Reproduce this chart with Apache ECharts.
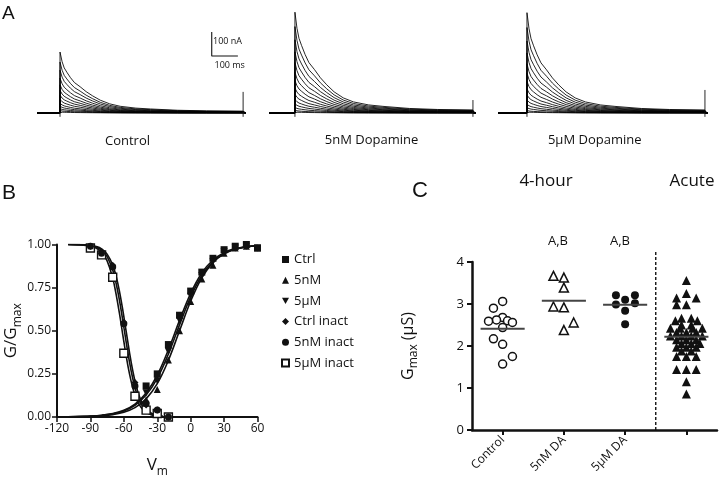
<!DOCTYPE html>
<html><head><meta charset="utf-8">
<script src="https://cdn.jsdelivr.net/npm/echarts@6.0.0/dist/echarts.min.js"></script>
<style>html,body{margin:0;padding:0;background:#fff}#c{width:720px;height:485px}</style>
</head><body><div id="c"></div><script>
// ---------- Panel A : current traces ----------
const traceDecayMs    = [0, 8, 16, 26, 40, 55, 77, 100, 125, 154, 190, 230, 290, 346, 450, 560, 700];
const traceDecayShape = [1.00, 0.84, 0.74, 0.67, 0.58, 0.50, 0.43, 0.35, 0.28, 0.21, 0.15, 0.11, 0.08, 0.066, 0.045, 0.035, 0.03];
const controlPeaksNA  = [254, 212, 178, 145, 117, 94, 74, 56, 40, 28, 18, 10, 4];
const nM5PeaksNA      = [420, 360, 305, 255, 210, 170, 135, 104, 78, 56, 38, 23, 11, 4];
const uM5PeaksNA      = [418, 356, 300, 250, 205, 166, 131, 100, 75, 54, 36, 22, 10, 4];
const endTickTopNA    = [88, 54, 96];
const stepTickNA      = -16;
const traceLabels     = ['Control', '5nM Dopamine', '5μM Dopamine'];
const scaleBarNA = 100, scaleBarMs = 100;

// ---------- Panel B : activation / inactivation ----------
const actV      = [-40, -30, -20, -10, 0, 10, 20, 30, 40, 50, 60];
const ctrlAct   = [0.18, 0.25, 0.42, 0.59, 0.73, 0.84, 0.92, 0.97, 0.99, 1.00, 0.98];
const nM5Act    = [0.10, 0.16, 0.33, 0.50, 0.67, 0.80, 0.88, 0.95, 0.98, 0.99, 0.98];
const uM5Act    = [0.14, 0.21, 0.38, 0.56, 0.70, 0.82, 0.90, 0.96, 0.98, 0.99, 0.98];
const inactV    = [-90, -80, -70, -60, -50, -40, -30, -20];
const ctrlInact = [0.99, 0.96, 0.88, 0.55, 0.20, 0.07, 0.04, 0.00];
const nM5Inact  = [0.99, 0.95, 0.87, 0.54, 0.18, 0.08, 0.04, 0.00];
const uM5Inact  = [0.98, 0.94, 0.81, 0.37, 0.12, 0.04, 0.02, 0.00];
const fitActV      = [-110, -100, -90, -80, -70, -60, -50, -40, -30, -20, -10, 0, 10, 20, 30, 40, 50, 60];
const fitCtrlAct   = [0.001, 0.003, 0.005, 0.010, 0.020, 0.039, 0.075, 0.139, 0.243, 0.390, 0.560, 0.717, 0.835, 0.910, 0.953, 0.976, 0.988, 0.994];
const fitNM5Act    = [0.001, 0.002, 0.003, 0.007, 0.014, 0.027, 0.054, 0.105, 0.193, 0.329, 0.500, 0.671, 0.807, 0.895, 0.946, 0.973, 0.986, 0.993];
const fitUM5Act    = [0.001, 0.002, 0.005, 0.009, 0.018, 0.035, 0.068, 0.127, 0.224, 0.365, 0.534, 0.696, 0.820, 0.901, 0.948, 0.973, 0.986, 0.993];
const fitInactV    = [-110, -100, -90, -85, -80, -75, -70, -67, -64, -61, -58, -55, -52, -49, -46, -43, -40, -35, -30, -25];
const fitCtrlInact = [1.000, 0.999, 0.995, 0.989, 0.975, 0.944, 0.881, 0.818, 0.731, 0.622, 0.500, 0.378, 0.269, 0.182, 0.119, 0.076, 0.047, 0.021, 0.009, 0.004];
const fitNM5Inact  = [1.000, 0.999, 0.994, 0.986, 0.968, 0.930, 0.852, 0.777, 0.679, 0.562, 0.438, 0.321, 0.223, 0.148, 0.095, 0.060, 0.037, 0.017, 0.007, 0.003];
const fitUM5Inact  = [1.000, 0.998, 0.991, 0.980, 0.956, 0.905, 0.805, 0.714, 0.603, 0.479, 0.358, 0.253, 0.170, 0.111, 0.070, 0.044, 0.027, 0.012, 0.005, 0.002];
const bXTicks = [-120, -90, -60, -30, 0, 30, 60];
const bYTicks = [0, 0.25, 0.5, 0.75, 1.0];

// ---------- Panel C : Gmax ----------
const cCategories   = ['Control', '5nM DA', '5μM DA', ''];
const controlG      = [3.06, 2.90, 2.68, 2.62, 2.60, 2.56, 2.59, 2.44, 2.17, 2.04, 1.75, 1.57];
const controlJitter = [0, -0.15, 0, -0.10, 0.08, 0.16, -0.23, 0, -0.15, 0, 0.16, 0];
const nM5G          = [3.67, 3.63, 3.39, 2.94, 2.92, 2.38, 2.56];
const nM5Jitter     = [-0.17, 0, 0, -0.17, 0, 0, 0.16];
const uM5G          = [3.21, 3.21, 2.99, 3.10, 3.02, 2.84, 2.52];
const uM5Jitter     = [-0.15, 0.16, -0.15, 0, 0.16, 0, 0];
const acuteG        = [3.56, 3.25, 3.14, 3.14, 2.98, 2.98, 2.66, 2.66, 2.60, 2.60, 2.50, 2.50,
                       2.42, 2.42, 2.42, 2.42, 2.32, 2.32, 2.32, 2.24, 2.24, 2.24, 2.24,
                       2.15, 2.15, 2.15, 2.06, 2.06, 2.06, 1.97, 1.97, 1.97, 1.88, 1.88,
                       1.75, 1.75, 1.75, 1.44, 1.44, 1.44, 1.15, 0.86];
const acuteJitter   = [0, 0, -0.16, 0.16, -0.16, 0, -0.08, 0.08, -0.18, 0.18, -0.08, 0.08,
                       -0.26, -0.1, 0.1, 0.26, -0.16, 0, 0.16, -0.26, -0.08, 0.08, 0.26,
                       -0.16, 0, 0.16, -0.08, 0.08, 0.22, -0.16, 0, 0.16, -0.08, 0.08,
                       -0.16, 0, 0.16, -0.16, 0, 0.16, 0, 0];
const groupMeans    = [2.41, 3.08, 2.98, 2.22];
const cYTicks       = [0, 1, 2, 3, 4];
const sigLabels     = ['A,B', 'A,B'];

// ---------- build ----------
const FONT = 'Open Sans';
const INK = '#111';
const chart = echarts.init(document.getElementById('c'), null, {renderer: 'canvas'});

const aPanels = [
  {peaks: controlPeaksNA, left: 37, width: 209, min: -88, max: 711},
  {peaks: nM5PeaksNA, left: 269, width: 207, min: -102, max: 712},
  {peaks: uM5PeaksNA, left: 498, width: 210, min: -114, max: 712}
];
const grids = [], xAxes = [], yAxes = [], series = [];
aPanels.forEach((p, i) => {
  grids.push({left: p.left, top: 7.4, width: p.width, height: 110.4});
  xAxes.push({type: 'value', gridIndex: i, min: p.min, max: p.max, show: false});
  yAxes.push({type: 'value', gridIndex: i, min: -20, max: 440, show: false});
  const endMs = traceDecayMs[traceDecayMs.length - 1];
  p.peaks.forEach(a => {
    const d = [[p.min, 0], [0, 0], [0, a]];
    traceDecayMs.forEach((t, k) => d.push([t, a * traceDecayShape[k]]));
    d.push([endMs, 0], [p.max - 1, 0]);
    series.push({type: 'line', xAxisIndex: i, yAxisIndex: i, data: d, symbol: 'none',
      lineStyle: {width: 0.85, color: '#000'}, silent: true, animation: false, z: 2});
  });
  series.push({type: 'line', xAxisIndex: i, yAxisIndex: i, symbol: 'none', silent: true, animation: false,
    data: [[endMs, endTickTopNA[i]], [endMs, stepTickNA]], lineStyle: {width: 0.9, color: '#111'}});
  series.push({type: 'line', xAxisIndex: i, yAxisIndex: i, symbol: 'none', silent: true, animation: false,
    data: [[0, 0], [0, stepTickNA]], lineStyle: {width: 0.9, color: '#111'}});
});
// scale bar in control panel
const sbMs = 580, sbNA = 237.5;
series.push({type: 'line', xAxisIndex: 0, yAxisIndex: 0, symbol: 'none', silent: true, animation: false,
  data: [[sbMs, sbNA + scaleBarNA], [sbMs, sbNA], [sbMs + scaleBarMs, sbNA]],
  lineStyle: {width: 1.1, color: '#111'}});

// Panel B grid (index 3)
grids.push({left: 57, top: 244.5, width: 200.5, height: 172.5});
const axisLine = {show: true, onZero: false, lineStyle: {color: INK, width: 2}};
xAxes.push({type: 'value', gridIndex: 3, min: bXTicks[0], max: bXTicks[bXTicks.length - 1], interval: 30,
  axisLine: axisLine, axisTick: {show: true, length: 5, lineStyle: {width: 1.5, color: INK}},
  axisLabel: {fontFamily: FONT, fontSize: 12, color: INK, margin: 6, showMinLabel: true, showMaxLabel: true},
  splitLine: {show: false},
  name: '{a|V}{s|m}', nameLocation: 'middle', nameGap: 40,
  nameTextStyle: {rich: {a: {fontFamily: FONT, fontSize: 17, color: INK, verticalAlign: 'top'},
                         s: {fontFamily: FONT, fontSize: 12, color: INK, verticalAlign: 'top', padding: [9, 0, 0, 0]}}}});
yAxes.push({type: 'value', gridIndex: 3, min: bYTicks[0], max: bYTicks[bYTicks.length - 1], interval: 0.25,
  axisLine: axisLine, axisTick: {show: true, length: 5, lineStyle: {width: 1.5, color: INK}},
  axisLabel: {fontFamily: FONT, fontSize: 12, color: INK, margin: 6, formatter: v => v.toFixed(2)},
  splitLine: {show: false},
  name: '{a|G/G}{s|max}', nameLocation: 'middle', nameGap: 33, nameRotate: 90,
  nameTextStyle: {rich: {a: {fontFamily: FONT, fontSize: 17, color: INK, verticalAlign: 'top'},
                         s: {fontFamily: FONT, fontSize: 12, color: INK, verticalAlign: 'top', padding: [9, 0, 0, 0]}}}});
const fitLine = (xs, ys) => ({type: 'line', xAxisIndex: 3, yAxisIndex: 3, data: xs.map((x, k) => [x, ys[k]]),
  symbol: 'none', smooth: 0.4, lineStyle: {width: 1.6, color: INK}, silent: true, animation: false, z: 2});
series.push(fitLine(fitActV, fitCtrlAct), fitLine(fitActV, fitNM5Act), fitLine(fitActV, fitUM5Act),
  fitLine(fitInactV, fitCtrlInact), fitLine(fitInactV, fitNM5Inact), fitLine(fitInactV, fitUM5Inact));
const invTri = 'path://M0,0 L10,0 L5,9 Z';
const bScatter = (name, xs, ys, symbol, size, open, z) => ({type: 'scatter', name, xAxisIndex: 3, yAxisIndex: 3,
  data: xs.map((x, k) => [x, ys[k]]), symbol, symbolSize: size, animation: false, z: z || 5,
  itemStyle: open ? {color: '#fff', borderColor: INK, borderWidth: 1.4, opacity: 1} : {color: INK, opacity: 1}});
series.push(
  bScatter('Ctrl', actV, ctrlAct, 'rect', 7),
  bScatter('5nM', actV, nM5Act, 'triangle', 7),
  bScatter('5μM', actV, uM5Act, invTri, 7),
  bScatter('Ctrl inact', inactV, ctrlInact, 'diamond', 7),
  bScatter('5nM inact', inactV, nM5Inact, 'circle', 7),
  bScatter('5μM inact', inactV, uM5Inact, 'rect', 8, true, 4));

// Panel C grid (index 4)
grids.push({left: 472, top: 262, width: 245, height: 168});
xAxes.push({type: 'category', gridIndex: 4, data: cCategories, boundaryGap: true,
  axisLine: {show: true, onZero: false, lineStyle: {color: INK, width: 2.5}},
  axisTick: {show: true, alignWithLabel: true, length: 5, lineStyle: {width: 2, color: INK}},
  axisLabel: {fontFamily: FONT, fontSize: 12, color: INK, rotate: 45, margin: 8, interval: 0}});
xAxes.push({type: 'value', gridIndex: 4, min: -0.5, max: cCategories.length - 0.5, show: false});
yAxes.push({type: 'value', gridIndex: 4, min: cYTicks[0], max: cYTicks[cYTicks.length - 1], interval: 1,
  axisLine: {show: true, onZero: false, lineStyle: {color: INK, width: 2.5}},
  axisTick: {show: true, length: 5, lineStyle: {width: 2, color: INK}},
  axisLabel: {fontFamily: FONT, fontSize: 13, color: INK, margin: 8},
  splitLine: {show: false},
  name: '{a|G}{s|max}{a| (μS)}', nameLocation: 'middle', nameGap: 52, nameRotate: 90,
  nameTextStyle: {rich: {a: {fontFamily: FONT, fontSize: 16, color: INK, verticalAlign: 'top'},
                         s: {fontFamily: FONT, fontSize: 12, color: INK, verticalAlign: 'top', padding: [8, 0, 0, 0]}}}});
const cScatter = (idx, vals, jit, symbol, size, open) => ({type: 'scatter', xAxisIndex: 5, yAxisIndex: 4,
  data: vals.map((v, k) => [idx + jit[k], v]), symbol, symbolSize: size, animation: false, z: 5,
  itemStyle: open ? {color: '#fff', borderColor: INK, borderWidth: 1.5, opacity: 1} : {color: INK, opacity: 1}});
series.push(
  cScatter(0, controlG, controlJitter, 'circle', 8, true),
  cScatter(1, nM5G, nM5Jitter, 'triangle', 9, true),
  cScatter(2, uM5G, uM5Jitter, 'circle', 8, false),
  cScatter(3, acuteG, acuteJitter, 'triangle', 9, false));
groupMeans.forEach((m, i) => series.push({type: 'line', xAxisIndex: 5, yAxisIndex: 4, symbol: 'none',
  data: [[i - 0.36, m], [i + 0.36, m]], lineStyle: {width: 2, color: '#444'}, silent: true, animation: false, z: 6}));
series.push({type: 'line', xAxisIndex: 5, yAxisIndex: 4, symbol: 'none', clip: false,
  data: [[2.5, 0], [2.5, 4.24]], lineStyle: {width: 1.4, color: INK, type: [3, 2]}, silent: true, animation: false});

const txt = (text, x, y, size, align, family, extra) => ({type: 'text', x, y, silent: true,
  style: Object.assign({text, fontSize: size, fontFamily: family || FONT, fill: INK, align: align || 'center', verticalAlign: 'middle'}, extra || {})});
const graphic = [
  txt('A', 2, 14, 19, 'left', 'Liberation Sans'),
  txt('B', 2, 193, 21, 'left', 'Liberation Sans'),
  txt('C', 412, 191, 22, 'left', 'Liberation Sans'),
  txt(traceLabels[0], 127.5, 141, 13),
  txt(traceLabels[1], 371.5, 140, 13),
  txt(traceLabels[2], 594.7, 140, 13),
  txt('100 nA', 213, 41.5, 9, 'left'),
  txt('100 ms', 229.7, 65, 9),
  txt('4-hour', 546, 181, 17),
  txt('Acute', 692, 181, 17),
  txt(sigLabels[0], 558, 241, 13),
  txt(sigLabels[1], 620, 241, 13)
];

chart.setOption({
  animation: false,
  backgroundColor: '#fff',
  grid: grids, xAxis: xAxes, yAxis: yAxes, series, graphic,
  legend: {orient: 'vertical', left: 276, top: 247.5, itemWidth: 7, itemHeight: 7, itemGap: 6.7,
    data: ['Ctrl', '5nM', '5μM', 'Ctrl inact', '5nM inact', '5μM inact'],
    textStyle: {fontFamily: FONT, fontSize: 13, color: INK, lineHeight: 14}, selectedMode: false}
});
</script></body></html>
